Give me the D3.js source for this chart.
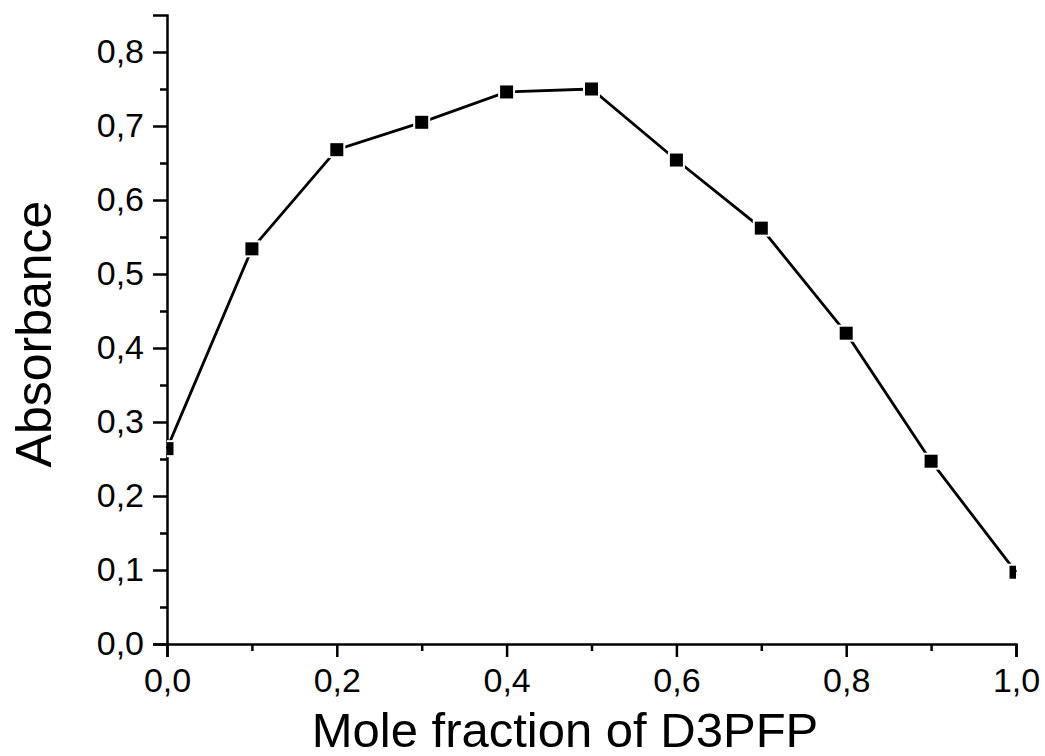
<!DOCTYPE html>
<html>
<head>
<meta charset="utf-8">
<script src="https://cdn.jsdelivr.net/npm/d3@7"></script>
<style>
  body { margin: 0; background: #fff; }
  text { font-family: "Liberation Sans", Arial, sans-serif; fill: #000; }
</style>
</head>
<body>
<svg id="chart" width="1045" height="756"></svg>
<script>
// mole fraction / absorbance
var fractions = [0.0, 0.1, 0.2, 0.3, 0.4, 0.5, 0.6, 0.7, 0.8, 0.9, 1.0];
var absorbance = [0.264, 0.534, 0.668, 0.705, 0.746, 0.750, 0.654, 0.562, 0.420, 0.247, 0.097];
var xTicks = [0, 0.2, 0.4, 0.6, 0.8, 1.0];
var xMinor = [0.1, 0.3, 0.5, 0.7, 0.9];
var yTicks = [0, 0.1, 0.2, 0.3, 0.4, 0.5, 0.6, 0.7, 0.8];
var yMinor = [0.05, 0.15, 0.25, 0.35, 0.45, 0.55, 0.65, 0.75];

var svg = d3.select('#chart');

var x = d3.scaleLinear().domain([0, 1]).range([167, 1016]);
var y = d3.scaleLinear().domain([0, 0.85]).range([644, 15]);

var comma = function (d) { return d3.format('.1f')(d).replace('.', ','); };

// clip markers to the plot frame
svg.append('defs').append('clipPath').attr('id', 'plot-clip')
    .append('rect')
    .attr('x', x(0)).attr('y', 0)
    .attr('width', x(1) - x(0)).attr('height', y(0));

// x axis
var gx = svg.append('g').attr('transform', 'translate(0,' + y(0) + ')');
gx.call(d3.axisBottom(x).tickValues(xTicks).tickSize(13).tickPadding(11).tickFormat(comma));
gx.append('g').call(d3.axisBottom(x).tickValues(xMinor).tickSize(7).tickFormat(''));

// y axis
var gy = svg.append('g').attr('transform', 'translate(' + x(0) + ',0)');
gy.call(d3.axisLeft(y).tickValues(yTicks).tickSize(14).tickPadding(9).tickFormat(comma));
gy.append('g').call(d3.axisLeft(y).tickValues(yMinor).tickSize(7).tickFormat(''));

gx.attr('font-size', null);
gy.attr('font-size', null);
svg.selectAll('.domain').attr('stroke', '#000').attr('stroke-width', 2.5);
svg.selectAll('.tick line').attr('stroke', '#000').attr('stroke-width', 2.5);
svg.selectAll('.tick text')
    .style('font-size', '34px')
    .style('font-family', '"Liberation Sans", Arial, sans-serif')
    .attr('fill', '#000');
gx.selectAll('.domain').filter(function (d, i) { return i > 0; }).remove();
gy.selectAll('.domain').filter(function (d, i) { return i > 0; }).remove();

// data line
var pts = fractions.map(function (f, i) { return [f, absorbance[i]]; });
svg.append('path')
    .datum(pts)
    .attr('fill', 'none')
    .attr('stroke', '#000')
    .attr('stroke-width', 2.8)
    .attr('d', d3.line().x(function (d) { return x(d[0]); }).y(function (d) { return y(d[1]); }));

// square markers, white rim gives the little gaps in the line
svg.append('g').attr('clip-path', 'url(#plot-clip)')
    .selectAll('rect')
    .data(pts)
    .enter().append('rect')
    .attr('x', function (d) { return x(d[0]) - 6.5; })
    .attr('y', function (d) { return y(d[1]) - 6.5; })
    .attr('width', 13)
    .attr('height', 13)
    .attr('fill', '#000')
    .attr('stroke', '#fff')
    .attr('stroke-width', 4)
    .attr('paint-order', 'stroke');

// axis titles
svg.append('text')
    .attr('x', 565).attr('y', 747)
    .attr('text-anchor', 'middle')
    .style('font-size', '49px')
    .text('Mole fraction of D3PFP');

svg.append('text')
    .attr('transform', 'translate(51,334) rotate(-90)')
    .attr('text-anchor', 'middle')
    .style('font-size', '50px')
    .text('Absorbance');
</script>
</body>
</html>
